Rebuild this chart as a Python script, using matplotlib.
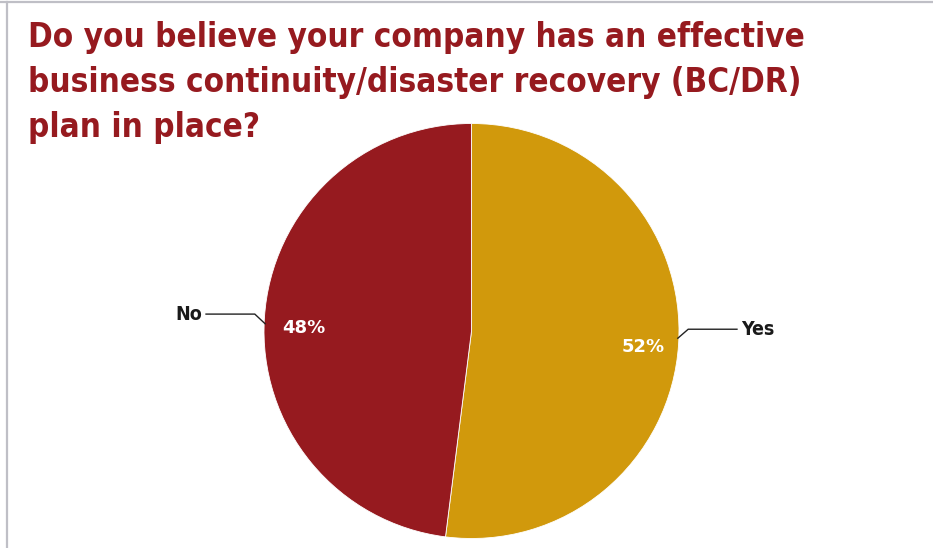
import matplotlib
matplotlib.use("Agg")
import matplotlib.pyplot as plt
from matplotlib.lines import Line2D
import numpy as np

labels = ["Yes", "No"]
values = [52, 48]
colors = ["#d1990c", "#961a1f"]
title_lines = [
    "Do you believe your company has an effective",
    "business continuity/disaster recovery (BC/DR)",
    "plan in place?",
]

W, H = 933, 548
fig = plt.figure(figsize=(W / 100, H / 100), dpi=100)
fig.patch.set_facecolor("white")

# frame lines along the top and left edge
fig.add_artist(Line2D([0, 1], [1 - 1.5 / H, 1 - 1.5 / H], color="#bfbfc6", lw=1.6))
fig.add_artist(Line2D([6.5 / W, 6.5 / W], [0, 1 - 1.5 / H], color="#bfbfc6", lw=1.6))

# title, fitted to a fixed line width
target_w = 775
baselines = [47, 92, 137]
texts = []
for line, by in zip(title_lines, baselines):
    t = fig.text(28 / W, 1 - by / H, line, family="DejaVu Sans", fontstretch="condensed",
                 weight="bold", fontsize=29, color="#961a1f", ha="left", va="baseline")
    texts.append(t)
fig.canvas.draw()
r = fig.canvas.get_renderer()
w0 = texts[0].get_window_extent(r).width
fs = 29 * target_w / w0
for t in texts:
    t.set_fontsize(fs)

# pie
cx, cy, rad = 471.5, 331, 207.5
ax = fig.add_axes([(cx - rad) / W, (H - cy - rad) / H, 2 * rad / W, 2 * rad / H])
wedges, _, autotexts = ax.pie(values, colors=colors, startangle=90, counterclock=False,
                              radius=1, autopct="%d%%", pctdistance=0.81,
                              wedgeprops=dict(linewidth=0.6, edgecolor="white"),
                              textprops=dict(color="white", fontsize=13, weight="bold",
                                             family="DejaVu Sans"))
ax.set_xlim(-1, 1)
ax.set_ylim(-1, 1)
ax.set_aspect("equal")
ax.axis("off")

# nudge the percentage labels slightly below the mid-angle
for t in autotexts:
    x, y = t.get_position()
    if x > 0:
        t.set_position((x + 0.02, y - 0.028))
    else:
        t.set_position((x, y - 0.035))

# leader lines and category labels
for w, lab in zip(wedges, labels):
    ang = np.deg2rad((w.theta1 + w.theta2) / 2 + 1.6)
    x0, y0 = 0.995 * np.cos(ang), 0.995 * np.sin(ang)
    x1, y1 = 1.045 * np.cos(ang), 1.045 * np.sin(ang) + 0.045
    side = 1 if x0 > 0 else -1
    x2 = x1 + side * 0.235
    ax.plot([x0, x1, x2], [y0, y1, y1], color="#222222", lw=1.0, clip_on=False,
            solid_joinstyle="miter")
    ax.text(x2 + side * 0.018, y1, lab, ha="left" if side > 0 else "right",
            va="center", fontsize=14, weight="bold", color="#1a1a1a",
            family="DejaVu Sans", fontstretch="condensed")

fig.savefig("out.png", dpi=100, facecolor="white")
